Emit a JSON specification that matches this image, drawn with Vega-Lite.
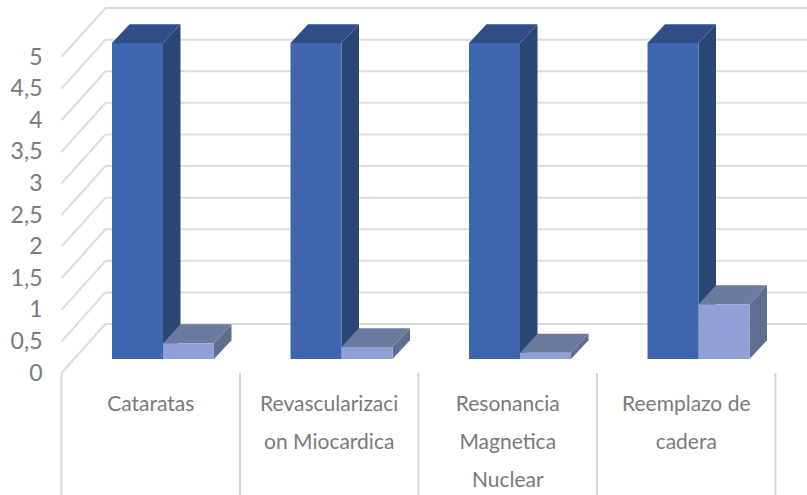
{
"$schema":"https://vega.github.io/schema/vega-lite/v6.json",
"width":807,"height":495,"padding":0,"autosize":{"type":"none"},
"background":"#ffffff",
"config":{"view":{"stroke":null}},
"data":{"values":[
{"pos":0,"series":"A","value":5},{"pos":0,"series":"B","value":0.25},
{"pos":1,"series":"A","value":5},{"pos":1,"series":"B","value":0.19},
{"pos":2,"series":"A","value":5},{"pos":2,"series":"B","value":0.1},
{"pos":3,"series":"A","value":5},{"pos":3,"series":"B","value":0.87}
]},
"encoding":{
"x":{"field":"x","type":"quantitative","scale":{"domain":[-0.3445,4.1765],"nice":false,"zero":false},"axis":null},
"y":{"field":"y","type":"quantitative","scale":{"domain":[-1.93,5.902],"nice":false,"zero":false},
"axis":{"title":null,"values":[0,0.5,1,1.5,2,2.5,3,3.5,4,4.5,5],"offset":-42,"domain":false,"ticks":false,"grid":false,"labelPadding":0,"labelFont":"Lato","labelFontSize":23,"labelColor":"#7a7a7a","labelExpr":"replace(toString(datum.value),'.',',')","labelOverlap":false,"labelBound":false,"labelFlush":false}}
},
"layer":[
{"data":{"values":[{"v":0},{"v":0.5},{"v":1},{"v":1.5},{"v":2},{"v":2.5},{"v":3},{"v":3.5},{"v":4},{"v":4.5},{"v":5}]},
"transform":[{"calculate":"0.2465","as":"x"},{"calculate":"4.1765","as":"x2"},{"calculate":"datum.v+0.775","as":"y"}],
"mark":{"type":"rule","color":"#dcdcdc","strokeWidth":2},
"encoding":{"x2":{"field":"x2"}}},
{"data":{"values":[{"v":0},{"v":0.5},{"v":1},{"v":1.5},{"v":2},{"v":2.5},{"v":3},{"v":3.5},{"v":4},{"v":4.5},{"v":5}]},
"transform":[{"calculate":"0","as":"x"},{"calculate":"0.2465","as":"x2"},{"calculate":"datum.v","as":"y"},{"calculate":"datum.v+0.775","as":"y2"}],
"mark":{"type":"rule","color":"#dcdcdc","strokeWidth":2},
"encoding":{"x2":{"field":"x2"},"y2":{"field":"y2"}}},
{"data":{"values":[{"x":0},{"x":1},{"x":2},{"x":3},{"x":4}]},
"transform":[{"calculate":"0","as":"y"},{"calculate":"-1.93","as":"y2"}],
"mark":{"type":"rule","color":"#d6d6d6","strokeWidth":2},
"encoding":{"y2":{"field":"y2"}}},
{"transform":[{"filter":"datum.series=='A'"},{"calculate":"[0,1]","as":"t"},{"flatten":["t"]},
{"calculate":"datum.pos+0.283+0.2857+datum.t*0.098","as":"x"},{"calculate":"0.22+datum.t*0.3","as":"y2"},{"calculate":"0.22+datum.value+datum.t*0.3","as":"y"}],
"mark":{"type":"area","color":"#2a4675","line":false},
"encoding":{"y2":{"field":"y2"},"detail":{"field":"pos"}}},
{"transform":[{"filter":"datum.series=='A'"},{"calculate":"[0,1,2,3]","as":"t"},{"flatten":["t"]},
{"calculate":"datum.pos+0.283+[0,0.098,0.2857,0.3837][datum.t]","as":"x"},{"calculate":"0.22+datum.value+[0,0,0,0.3][datum.t]","as":"y2"},{"calculate":"0.22+datum.value+[0,0.3,0.3,0.3][datum.t]","as":"y"}],
"mark":{"type":"area","color":"#2f4f86"},
"encoding":{"y2":{"field":"y2"},"detail":{"field":"pos"}}},
{"transform":[{"filter":"datum.series=='A'"},{"calculate":"datum.pos+0.283","as":"x"},{"calculate":"datum.x+0.2857","as":"x2"},{"calculate":"0.22","as":"y2"},{"calculate":"0.22+datum.value","as":"y"}],
"mark":{"type":"rect","color":"#3e66ae"},
"encoding":{"x2":{"field":"x2"},"y2":{"field":"y2"}}},
{"transform":[{"filter":"datum.series=='B'"},{"calculate":"[0,1]","as":"t"},{"flatten":["t"]},
{"calculate":"datum.pos+0.5687+0.2857+datum.t*0.098","as":"x"},{"calculate":"0.22+datum.t*0.3","as":"y2"},{"calculate":"0.22+datum.value+datum.t*0.3","as":"y"}],
"mark":{"type":"area","color":"#5f6d8f"},
"encoding":{"y2":{"field":"y2"},"detail":{"field":"pos"}}},
{"transform":[{"filter":"datum.series=='B'"},{"calculate":"[0,1,2,3]","as":"t"},{"flatten":["t"]},
{"calculate":"datum.pos+0.5687+[0,0.098,0.2857,0.3837][datum.t]","as":"x"},{"calculate":"0.22+datum.value+[0,0,0,0.3][datum.t]","as":"y2"},{"calculate":"0.22+datum.value+[0,0.3,0.3,0.3][datum.t]","as":"y"}],
"mark":{"type":"area","color":"#6b7a9f"},
"encoding":{"y2":{"field":"y2"},"detail":{"field":"pos"}}},
{"transform":[{"filter":"datum.series=='B'"},{"calculate":"datum.pos+0.5687","as":"x"},{"calculate":"datum.x+0.2857","as":"x2"},{"calculate":"0.22","as":"y2"},{"calculate":"0.22+datum.value","as":"y"}],
"mark":{"type":"rect","color":"#8fa0d7"},
"encoding":{"x2":{"field":"x2"},"y2":{"field":"y2"}}},
{"data":{"values":[
{"x":0.5,"label":"Cataratas"},
{"x":1.5,"label":"Revascularizaci\non Miocardica"},
{"x":2.5,"label":"Resonancia\nMagnetica\nNuclear"},
{"x":3.5,"label":"Reemplazo de\ncadera"}]},
"transform":[{"calculate":"-0.33","as":"y"}],
"mark":{"type":"text","font":"Lato","fontSize":21,"color":"#7a7a7a","baseline":"top","align":"center","lineBreak":"\n","lineHeight":38},
"encoding":{"text":{"field":"label"}}}
]
}
